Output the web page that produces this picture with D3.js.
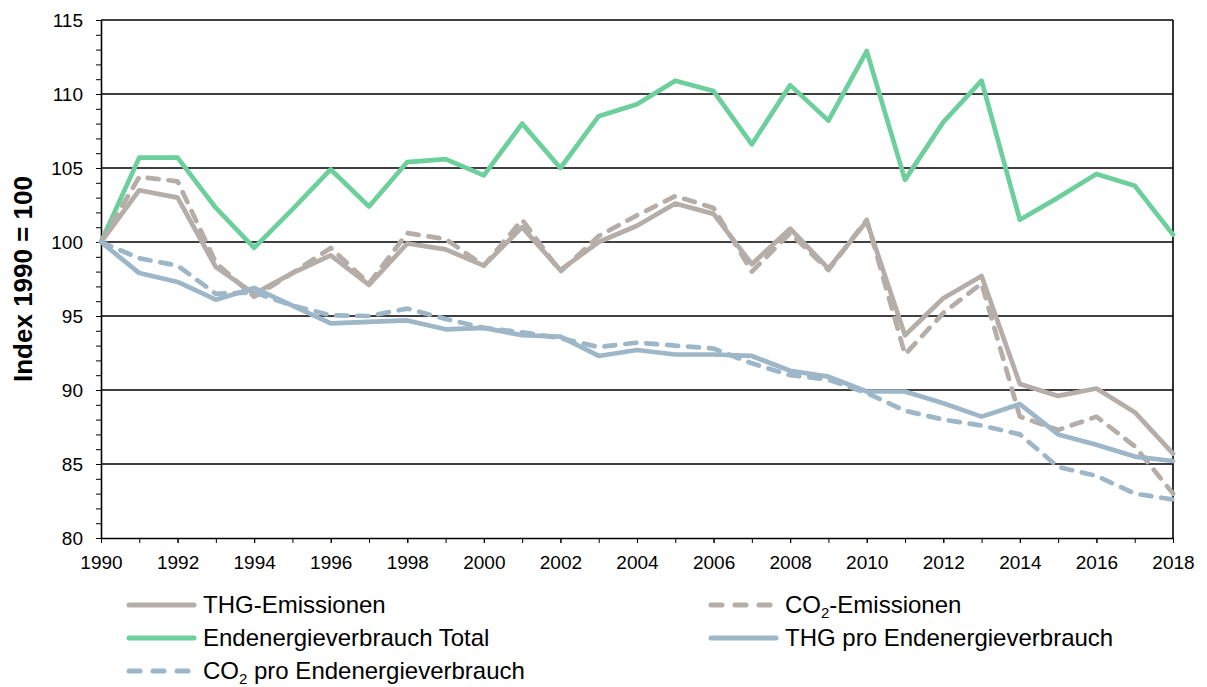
<!DOCTYPE html>
<meta charset="utf-8">
<style>
  body { margin: 0; background: #fff; }
  text { font-family: "Liberation Sans", Arial, sans-serif; fill: #000; }
  .grid line { stroke: #000; stroke-width: 1.6px; }
  .series { fill: none; stroke-width: 4.7px; stroke-linejoin: round; stroke-linecap: round; }
</style>
<body>
<script src="https://d3js.org/d3.v7.min.js"></script>
<script>
// years on the x axis
var years = [1990, 1991, 1992, 1993, 1994, 1995, 1996, 1997, 1998, 1999,
             2000, 2001, 2002, 2003, 2004, 2005, 2006, 2007, 2008, 2009,
             2010, 2011, 2012, 2013, 2014, 2015, 2016, 2017, 2018];
var xTickLabels = [1990, 1992, 1994, 1996, 1998, 2000, 2002, 2004, 2006, 2008, 2010, 2012, 2014, 2016, 2018];
var yTickLabels = [80, 85, 90, 95, 100, 105, 110, 115];

// index values 1990 = 100
var thgEmissionen = [100, 103.5, 103.0, 98.3, 96.5, 97.9, 99.1, 97.1, 99.9, 99.5,
                     98.4, 101.0, 98.1, 100.0, 101.1, 102.6, 101.9, 98.5, 100.9, 98.2,
                     101.4, 93.7, 96.2, 97.7, 90.4, 89.6, 90.1, 88.5, 85.7];
var co2Emissionen = [100, 104.4, 104.1, 98.6, 96.3, 97.9, 99.6, 97.2, 100.6, 100.2,
                     98.4, 101.5, 98.0, 100.4, 101.8, 103.1, 102.3, 98.0, 100.6, 98.1,
                     101.5, 92.4, 95.2, 97.2, 88.2, 87.3, 88.2, 86.2, 83.0];
var endenergie = [100, 105.7, 105.7, 102.3, 99.6, 102.2, 104.9, 102.4, 105.4, 105.6,
                  104.5, 108.0, 105.0, 108.5, 109.3, 110.9, 110.2, 106.6, 110.6, 108.2,
                  112.9, 104.2, 108.1, 110.9, 101.5, 103.0, 104.6, 103.8, 100.5];
var thgProEnergie = [100, 97.9, 97.3, 96.1, 96.9, 95.7, 94.5, 94.6, 94.7, 94.1,
                     94.2, 93.7, 93.6, 92.3, 92.7, 92.4, 92.4, 92.3, 91.3, 90.9,
                     89.9, 89.9, 89.1, 88.2, 89.05, 87.0, 86.3, 85.5, 85.2];
var co2ProEnergie = [100, 98.9, 98.4, 96.5, 96.6, 95.7, 95.05, 95.0, 95.5, 94.8,
                     94.2, 93.9, 93.5, 92.9, 93.2, 93.0, 92.8, 91.8, 91.0, 90.7,
                     89.8, 88.6, 88.0, 87.6, 87.0, 84.8, 84.2, 83.0, 82.6];

var grey = "#b5ada8", green = "#6dcf9c", blue = "#9db6c8";

var series = [
  { name: "Endenergieverbrauch Total", values: endenergie, color: green, dash: null },
  { name: "THG-Emissionen", values: thgEmissionen, color: grey, dash: null },
  { name: "CO2-Emissionen", values: co2Emissionen, color: grey, dash: "11,10" },
  { name: "THG pro Endenergieverbrauch", values: thgProEnergie, color: blue, dash: null },
  { name: "CO2 pro Endenergieverbrauch", values: co2ProEnergie, color: blue, dash: "11,10" }
];

var svg = d3.select("body").append("svg")
    .attr("width", 1207)
    .attr("height", 687);

var plotL = 101, plotR = 1173, plotT = 20, plotB = 538;

var x = d3.scaleLinear().domain([1990, 2018]).range([plotL, plotR]);
var y = d3.scaleLinear().domain([80, 115]).range([plotB, plotT]);

// gridlines
svg.append("g").attr("class", "grid")
  .selectAll("line")
  .data(yTickLabels.filter(function(d) { return d > 80; }))
  .enter().append("line")
    .attr("x1", plotL).attr("x2", plotR)
    .attr("y1", function(d) { return y(d); })
    .attr("y2", function(d) { return y(d); });

// right border
svg.append("line")
  .attr("x1", plotR).attr("x2", plotR)
  .attr("y1", plotT).attr("y2", plotB)
  .attr("stroke", "#000").attr("stroke-width", 1.6);

// y axis with minor ticks
var yMinor = svg.append("g")
  .attr("transform", "translate(" + plotL + ",0)")
  .call(d3.axisLeft(y).ticks(35).tickSize(5).tickFormat(""));
yMinor.select(".domain").remove();
var yAxis = svg.append("g")
  .attr("transform", "translate(" + plotL + ",0)")
  .call(d3.axisLeft(y).tickValues(yTickLabels).tickSize(5).tickSizeOuter(0).tickPadding(13));
yAxis.select(".domain").attr("stroke-width", 1.6);
yAxis.selectAll("text").style("font-size", "19px");

// x axis
var xMinor = svg.append("g")
  .attr("transform", "translate(0," + plotB + ")")
  .call(d3.axisBottom(x).tickValues(years).tickSize(5).tickFormat(""));
xMinor.select(".domain").remove();
var xAxis = svg.append("g")
  .attr("transform", "translate(0," + plotB + ")")
  .call(d3.axisBottom(x).tickValues(xTickLabels).tickSize(5).tickSizeOuter(0).tickPadding(13).tickFormat(d3.format("d")));
xAxis.select(".domain").attr("stroke-width", 1.6);
xAxis.selectAll("text").style("font-size", "19px");

// axis title
svg.append("text")
  .attr("transform", "translate(32," + ((plotT + plotB) / 2) + ") rotate(-90)")
  .attr("text-anchor", "middle")
  .style("font-size", "26px")
  .style("font-weight", "bold")
  .text("Index 1990 = 100");

// lines
var line = d3.line()
  .x(function(d, i) { return x(years[i]); })
  .y(function(d) { return y(d); });

svg.append("g").selectAll("path")
  .data(series)
  .enter().append("path")
    .attr("class", "series")
    .attr("stroke", function(d) { return d.color; })
    .attr("stroke-dasharray", function(d) { return d.dash; })
    .attr("d", function(d) { return line(d.values); });

// legend
var legendItems = [
  { s: series[1], lx: 128, ly: 605 },
  { s: series[2], lx: 710, ly: 605 },
  { s: series[0], lx: 128, ly: 638 },
  { s: series[3], lx: 710, ly: 638 },
  { s: series[4], lx: 128, ly: 671 }
];

var legend = svg.append("g").selectAll("g")
  .data(legendItems)
  .enter().append("g")
    .attr("transform", function(d) { return "translate(" + d.lx + "," + d.ly + ")"; });

legend.append("line")
  .attr("x1", 1).attr("x2", 66)
  .attr("y1", 0).attr("y2", 0)
  .attr("stroke", function(d) { return d.s.color; })
  .attr("stroke-width", 5)
  .attr("stroke-linecap", "round")
  .attr("stroke-dasharray", function(d) { return d.s.dash ? "11,13" : null; });

legend.append("text")
  .attr("x", 75)
  .attr("y", 8)
  .style("font-size", "24px")
  .each(function(d) {
    var t = d3.select(this);
    var name = d.s.name;
    if (name.indexOf("CO2") === 0) {
      t.append("tspan").text("CO");
      t.append("tspan").text("2").style("font-size", "15px").attr("dy", 5);
      t.append("tspan").text(name.slice(3)).attr("dy", -5);
    } else {
      t.text(name);
    }
  });
</script>
</body>
